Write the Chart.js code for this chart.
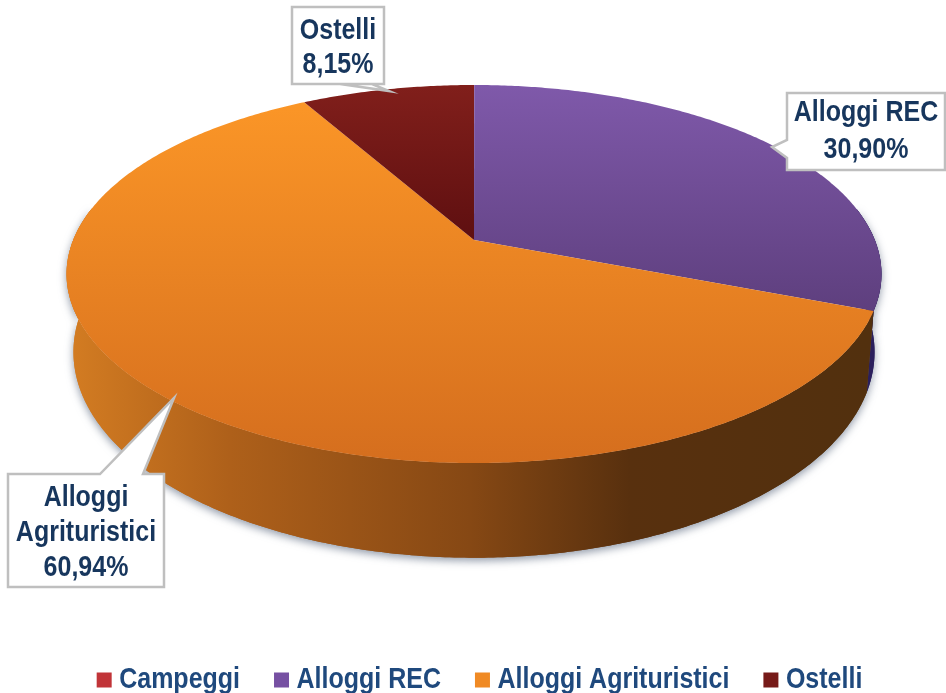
<!DOCTYPE html>
<html>
<head>
<meta charset="utf-8">
<title>Alloggi</title>
<script src="https://cdn.jsdelivr.net/npm/chart.js@4/dist/chart.umd.min.js"></script>
<style>
  html, body { margin: 0; padding: 0; background: #fff; }
  #wrap { width: 946px; height: 693px; }
  canvas { filter: blur(0.5px); }
</style>
</head>
<body>
<div id="wrap"><canvas id="pie" width="946" height="693"></canvas></div>
<script>
const categories = ['Campeggi', 'Alloggi REC', 'Alloggi Agrituristici', 'Ostelli'];
const shares = [0.01, 30.90, 60.94, 8.15];
const legendColors = ['#c13438', '#7650a2', '#f08a24', '#761a18'];

const FONT_FAMILY = "'Liberation Sans', Arial, sans-serif";
const TEXT_STRETCH = 1.2; // the original lettering is taller than Arial
const LEGEND_Y = 677;

// ── Perspective of the disc (Chart.js pie is flat, so arcs get projected) ─────
const TILT = 0.18;
const CX = 474;
const TOP_DISC = { y: 240, a: 400.8, b: 182.9 };
const BOTTOM_DISC = { y: 315, a: 394, b: 199 };
const BACK_LIMIT = -TILT; // sin(angle) above which the rim is visible

function project(angle, disc) {
  const u = Math.cos(angle);
  const v = Math.sin(angle);
  const w = 1 / (1 - TILT * v);
  return { x: CX + disc.a * u * w, y: disc.y + disc.b * v * w };
}

function arcAngles(start, end) {
  const out = [];
  const steps = Math.max(2, Math.ceil((end - start) / 0.01));
  for (let i = 0; i <= steps; i++) out.push(start + (end - start) * i / steps);
  return out;
}

function linear(ctx, x0, y0, x1, y1, stops) {
  const g = ctx.createLinearGradient(x0, y0, x1, y1);
  stops.forEach(([p, c]) => g.addColorStop(p, c));
  return g;
}

// rim part of a slice that faces the viewer
function rimAngles(start, end) {
  return arcAngles(start, end).filter(a => Math.sin(a) > BACK_LIMIT);
}

function rimPath(ctx, angles) {
  ctx.beginPath();
  angles.forEach((a, i) => {
    const p = project(a, TOP_DISC);
    if (i) ctx.lineTo(p.x, p.y); else ctx.moveTo(p.x, p.y);
  });
  angles.slice().reverse().forEach(a => {
    const p = project(a, BOTTOM_DISC);
    ctx.lineTo(p.x, p.y);
  });
  ctx.closePath();
}

const pie3d = {
  id: 'pie3d',
  beforeDatasetsDraw(chart) {
    const ctx = chart.ctx;
    const arcs = chart.getDatasetMeta(0).data;
    const topFills = [
      linear(ctx, 0, 85, 0, 311, [[0, '#cc3a3a'], [1, '#a52a2a']]),
      linear(ctx, 0, 85, 0, 311, [[0, '#7f59aa'], [1, '#5e3f7e']]),
      linear(ctx, 0, 100, 0, 463, [[0, '#fb9627'], [1, '#d56e1e']]),
      linear(ctx, 0, 85, 0, 240, [[0, '#811f1b'], [1, '#5e0f10']]),
    ];
    const rimFills = [
      '#7a1f20',
      '#2b1f5c',
      linear(ctx, 70, 0, 870, 0, [[0, '#d37c22'], [0.2, '#ae601a'], [0.5, '#864814'], [0.7, '#58300e'], [1, '#52300e']]),
      '#4a0d0c',
    ];

    ctx.save();
    // rim, first pass only for the soft shadow under the cake
    ctx.shadowColor = 'rgba(70,85,110,0.6)';
    ctx.shadowBlur = 9;
    ctx.shadowOffsetY = 3;
    arcs.forEach((arc, i) => {
      const angles = rimAngles(arc.startAngle, arc.endAngle);
      if (angles.length < 2) return;
      rimPath(ctx, angles);
      ctx.fillStyle = rimFills[i];
      ctx.fill();
    });
    ctx.restore();

    ctx.save();
    arcs.forEach((arc, i) => {
      const angles = rimAngles(arc.startAngle, arc.endAngle);
      if (angles.length < 2) return;
      rimPath(ctx, angles);
      ctx.fillStyle = rimFills[i];
      ctx.fill();
    });
    // top face
    arcs.forEach((arc, i) => {
      ctx.beginPath();
      ctx.moveTo(CX, TOP_DISC.y);
      arcAngles(arc.startAngle, arc.endAngle).forEach(a => {
        const p = project(a, TOP_DISC);
        ctx.lineTo(p.x, p.y);
      });
      ctx.closePath();
      ctx.fillStyle = topFills[i];
      ctx.fill();
    });
    ctx.restore();
    return false;
  },
};

// ── Callouts ──────────────────────────────────────────────────────────────────
const percent = v => v.toFixed(2).replace('.', ',') + '%';

const callouts = [
  { index: 3, lines: ['Ostelli'], box: [292, 7, 384, 84], ys: [31, 65],
    pointer: [[340, 84], [389, 91], [372, 84]] },
  { index: 1, lines: ['Alloggi REC'], box: [787, 93, 945, 170], ys: [113, 150],
    pointer: [[787, 158], [772, 147], [787, 140]] },
  { index: 2, lines: ['Alloggi', 'Agrituristici'], box: [8, 474, 164, 587], ys: [498, 533, 568],
    pointer: [[100, 474], [174, 398], [143, 474]] },
];

const calloutPlugin = {
  id: 'callouts',
  // afterDatasetsDraw is skipped once beforeDatasetsDraw returns false
  afterDraw(chart) {
    const ctx = chart.ctx;
    ctx.save();
    callouts.forEach(c => {
      const [l, t, r, b] = c.box;
      const tip = c.pointer;
      ctx.beginPath();
      ctx.moveTo(l, t);
      if (tip[0][1] === t) tip.forEach(p => ctx.lineTo(p[0], p[1]));
      ctx.lineTo(r, t);
      ctx.lineTo(r, b);
      if (tip[0][1] === b) tip.forEach(p => ctx.lineTo(p[0], p[1]));
      ctx.lineTo(l, b);
      if (tip[0][0] === l) tip.forEach(p => ctx.lineTo(p[0], p[1]));
      ctx.closePath();
      ctx.fillStyle = '#fff';
      ctx.fill();
      ctx.strokeStyle = '#bfbfbf';
      ctx.lineWidth = 2.5;
      ctx.stroke();

      ctx.fillStyle = '#17365d';
      ctx.font = `bold 25px ${FONT_FAMILY}`;
      ctx.textAlign = 'center';
      ctx.textBaseline = 'middle';
      const text = c.lines.concat(percent(shares[c.index]));
      text.forEach((line, i) => {
        ctx.save();
        ctx.translate((l + r) / 2, c.ys[i]);
        ctx.scale(1, TEXT_STRETCH);
        ctx.fillText(line, 0, 0);
        ctx.restore();
      });
    });
    ctx.restore();
  },
};

// same stretch for the legend, it has no hook of its own around drawing
const legendStretch = {
  id: 'legendStretch',
  afterLayout(chart) {
    const legend = chart.legend;
    if (legend.stretched) return;
    legend.stretched = true;
    const draw = legend.draw.bind(legend);
    legend.draw = () => {
      const ctx = chart.ctx;
      ctx.save();
      ctx.translate(0, LEGEND_Y);
      ctx.scale(1, TEXT_STRETCH);
      ctx.translate(0, -LEGEND_Y);
      draw();
      ctx.restore();
    };
  },
};

new Chart(document.getElementById('pie').getContext('2d'), {
  type: 'pie',
  data: {
    labels: categories,
    datasets: [{ data: shares, backgroundColor: legendColors, borderWidth: 0 }],
  },
  options: {
    responsive: false,
    animation: false,
    layout: { padding: { left: 18, bottom: -9 } },
    plugins: {
      tooltip: { enabled: false },
      legend: {
        position: 'bottom',
        labels: {
          color: '#1f497d',
          font: { family: FONT_FAMILY, size: 25, weight: 'bold' },
          boxWidth: 5,
          boxHeight: 2.5,
          padding: 39,
          // thick stroke widens the tiny box, the legend's text gap is fixed otherwise
          generateLabels: () => categories.map((name, i) => ({
            text: name,
            fillStyle: legendColors[i],
            strokeStyle: legendColors[i],
            fontColor: '#1f497d',
            lineWidth: 10,
            hidden: false,
            index: i,
          })),
        },
      },
    },
  },
  plugins: [legendStretch, pie3d, calloutPlugin],
});
</script>
</body>
</html>
